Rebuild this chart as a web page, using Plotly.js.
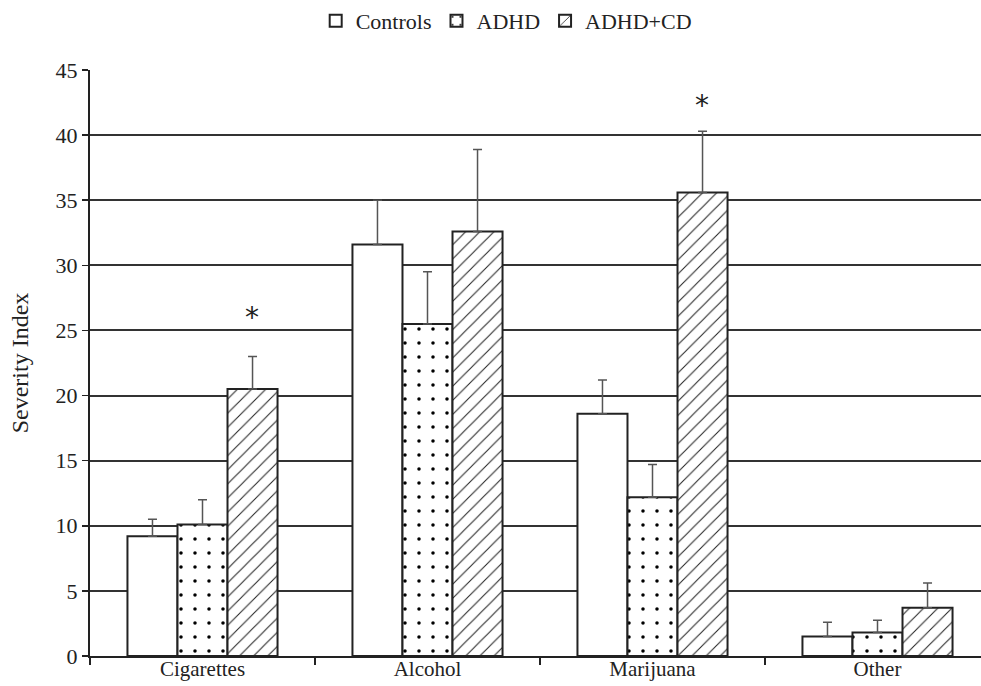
<!DOCTYPE html>
<html>
<head>
<meta charset="utf-8">
<script src="https://cdn.plot.ly/plotly-3.0.1.min.js"></script>
<style>html,body{margin:0;padding:0;background:#fff;}</style>
</head>
<body>
<div id="chart" style="width:981px;height:686px;"></div>
<script>
const categories = ["Cigarettes", "Alcohol", "Marijuana", "Other"];
const seriesNames = ["Controls", "ADHD", "ADHD+CD"];
const controls = [9.2, 31.6, 18.6, 1.5];
const controlsErr = [1.3, 3.4, 2.6, 1.1];
const adhd = [10.1, 25.5, 12.2, 1.8];
const adhdErr = [1.9, 4.0, 2.5, 0.95];
const adhdcd = [20.5, 32.6, 35.6, 3.7];
const adhdcdErr = [2.5, 6.3, 4.7, 1.9];
const starX = [0.222, 2.222];
const starY = [26.0, 42.3];
const yTicks = [0, 5, 10, 15, 20, 25, 30, 35, 40, 45];

const serif = "'Liberation Serif', 'Times New Roman', serif";
const zeros = [0, 0, 0, 0];

function bar(name, y, err, pattern) {
  return {
    type: "bar", name: name, x: categories, y: y,
    marker: {color: "#ffffff", line: {color: "#222", width: 2}, pattern: pattern},
    error_y: {type: "data", array: err, arrayminus: zeros, symmetric: false,
              color: "#555", thickness: 1.5, width: 4.5}
  };
}

const data = [
  bar(seriesNames[0], controls, controlsErr, {shape: ""}),
  bar(seriesNames[1], adhd, adhdErr, {shape: ".", fgcolor: "#000", bgcolor: "#fff", size: 14, solidity: 0.05}),
  bar(seriesNames[2], adhdcd, adhdcdErr, {shape: "/", fgcolor: "#222", bgcolor: "#fff", size: 10, solidity: 0.1})
];

const layout = {
  width: 981, height: 686,
  margin: {l: 90, r: 0, t: 70, b: 30},
  paper_bgcolor: "#fff", plot_bgcolor: "#fff",
  font: {family: serif, color: "#222", size: 22},
  barmode: "group", bargap: 0.333, bargroupgap: 0,
  showlegend: true,
  legend: {orientation: "h", xref: "container", yref: "container", x: 0.516, xanchor: "center",
           y: 1, yanchor: "top", font: {family: serif, size: 22, color: "#222"},
           itemwidth: 30, tracegroupgap: 0, bgcolor: "rgba(0,0,0,0)"},
  xaxis: {
    type: "category", range: [-0.5, 3.46], showgrid: false,
    showline: true, linecolor: "#222", linewidth: 2,
    ticks: "outside", tickson: "boundaries", ticklen: 7, tickwidth: 1.5, tickcolor: "#222",
    ticklabelstandoff: -7,
    tickfont: {family: serif, size: 21, color: "#222"}, zeroline: false, fixedrange: true
  },
  yaxis: {
    range: [0, 45], tickvals: yTicks, showgrid: true, gridcolor: "#333", gridwidth: 2,
    showline: true, linecolor: "#222", linewidth: 2,
    ticks: "outside", ticklen: 6, tickwidth: 1.5, tickcolor: "#222",
    tickfont: {family: serif, size: 22, color: "#222"}, zeroline: false,
    title: {text: "Severity Index", font: {family: serif, size: 24, color: "#222"}, standoff: 20}
  },
  annotations: starX.map((x, i) => ({
    x: x, y: starY[i], xref: "x", yref: "y", text: "*", showarrow: false,
    font: {family: "DejaVu Sans, sans-serif", size: 28, color: "#222"}
  }))
};

Plotly.newPlot("chart", data, layout, {displayModeBar: false, staticPlot: true});
</script>
</body>
</html>
